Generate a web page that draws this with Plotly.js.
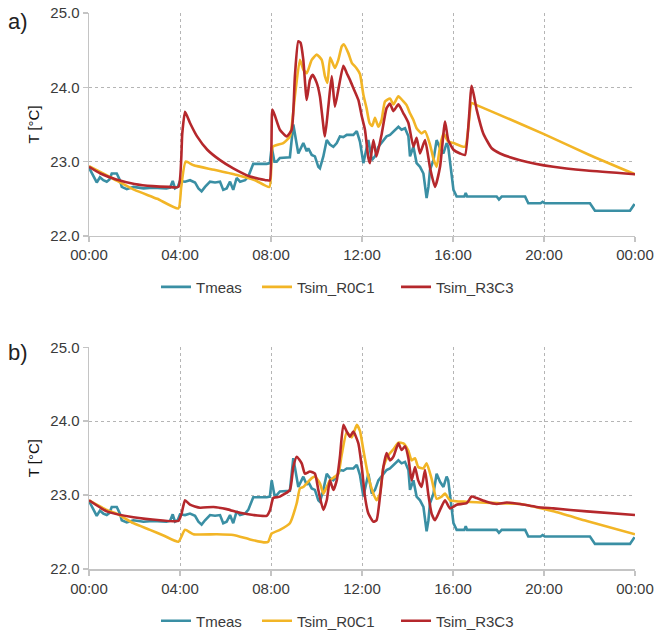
<!DOCTYPE html>
<html>
<head>
<meta charset="utf-8">
<script src="https://cdn.plot.ly/plotly-3.0.1.min.js"></script>
<style>
html,body{margin:0;padding:0;background:#fff;}
#chart{width:657px;height:630px;}
</style>
</head>
<body>
<div id="chart"></div>
<script>
// ---- data (hours since 00:00, temperature in °C) ----
var tickHours = [0, 4, 8, 12, 16, 20, 24];
var tickLabels = ["00:00", "04:00", "08:00", "12:00", "16:00", "20:00", "00:00"];
var seriesNames = ["Tmeas", "Tsim_R0C1", "Tsim_R3C3"];

var measT = [0,0.19,0.34,0.48,0.63,0.78,0.9,1.0,1.22,1.36,1.44,1.66,1.95,2.4,2.8,3.4,3.56,3.68,3.78,3.9,4.0,4.22,4.44,4.66,4.81,4.95,5.1,5.32,5.54,5.76,5.9,6.05,6.2,6.34,6.49,6.64,6.86,7.0,7.15,7.22,7.81,7.95,8.03,8.15,8.25,8.39,8.83,8.98,9.2,9.42,9.57,9.64,9.79,9.93,10.08,10.15,10.3,10.45,10.59,10.74,10.89,11.03,11.18,11.33,11.62,11.77,11.84,11.91,12.06,12.13,12.28,12.43,12.57,12.72,12.94,13.08,13.23,13.45,13.6,13.74,13.89,14.04,14.11,14.26,14.4,14.55,14.7,14.84,14.92,14.99,15.14,15.28,15.43,15.58,15.72,15.79,15.94,16.02,16.16,16.5,16.56,16.62,17.92,18.02,18.14,19.17,19.31,19.85,19.94,20.03,22.02,22.24,23.78,23.98];
var measV = [22.92,22.80,22.72,22.79,22.75,22.73,22.76,22.84,22.84,22.75,22.66,22.63,22.66,22.64,22.65,22.64,22.65,22.74,22.64,22.66,22.74,22.73,22.75,22.72,22.64,22.60,22.66,22.73,22.72,22.73,22.62,22.64,22.73,22.62,22.78,22.73,22.75,22.80,22.90,22.97,22.97,22.98,23.20,23.00,23.00,23.05,23.06,23.50,23.11,23.25,23.14,23.18,23.09,23.07,22.93,22.91,23.07,23.29,23.23,23.20,23.25,23.34,23.33,23.36,23.36,23.41,23.34,23.27,22.98,23.07,23.29,23.02,23.07,23.20,23.29,23.34,23.36,23.43,23.47,23.43,23.45,23.34,23.07,23.20,22.98,22.93,22.84,22.51,22.66,22.89,23.02,23.29,23.18,23.11,23.25,23.20,22.84,22.62,22.53,22.53,22.58,22.53,22.53,22.49,22.53,22.53,22.44,22.44,22.46,22.44,22.44,22.34,22.34,22.43];

// panel a)
var aR0C1T = [0,1,2,3,3.93,4.05,4.25,4.6,5.5,6.5,7.3,7.93,8.08,8.54,8.83,9.05,9.27,9.42,9.57,9.79,10.01,10.23,10.37,10.48,10.6,10.81,10.96,11.11,11.2,11.4,11.55,11.75,11.91,12.06,12.2,12.33,12.45,12.57,12.72,12.86,13.01,13.23,13.38,13.6,13.82,13.96,14.11,14.26,14.4,14.62,14.77,14.99,15.14,15.28,15.43,15.58,15.79,16.02,16.53,16.82,17.04,18.5,20,22,24];
var aR0C1V = [22.94,22.78,22.62,22.50,22.37,22.65,23.00,22.95,22.89,22.82,22.75,22.66,23.20,23.25,23.34,23.88,24.37,24.24,24.19,24.37,24.44,24.37,24.15,24.06,24.40,24.26,24.37,24.55,24.58,24.46,24.33,24.26,24.18,23.90,23.72,23.52,23.48,23.59,23.47,23.56,23.81,23.85,23.77,23.88,23.81,23.76,23.65,23.56,23.45,23.38,23.41,23.23,23.04,22.93,23.20,23.38,23.27,23.25,23.20,23.79,23.76,23.57,23.37,23.09,22.83];

var aR3C3T = [0,0.5,1.2,2,2.8,3.5,3.93,4.1,4.22,4.44,4.75,5.2,5.76,6.34,7.08,7.81,7.95,8.06,8.18,8.39,8.69,8.91,9.05,9.2,9.3,9.42,9.57,9.71,9.83,10.01,10.15,10.37,10.52,10.67,10.81,10.96,11.18,11.33,11.47,11.62,11.84,11.99,12.13,12.28,12.35,12.5,12.64,12.87,13.08,13.23,13.38,13.6,13.82,14.04,14.26,14.4,14.55,14.77,15.0,15.21,15.43,15.65,15.79,16.02,16.31,16.53,16.82,17.04,17.33,17.7,18.07,18.95,20.41,21.88,24];
var aR3C3V = [22.93,22.84,22.76,22.70,22.67,22.66,22.66,23.38,23.67,23.52,23.34,23.16,23.02,22.91,22.80,22.75,22.75,23.70,23.61,23.43,23.34,23.43,24.15,24.62,24.60,24.37,23.83,24.10,24.17,24.06,23.88,23.34,23.74,24.15,23.74,23.97,24.29,24.19,24.10,23.99,23.83,23.61,23.43,23.05,22.98,23.29,23.07,23.38,23.72,23.78,23.68,23.77,23.65,23.52,23.20,23.32,23.11,23.29,22.90,22.66,22.93,23.54,23.29,23.16,23.11,23.09,24.02,23.70,23.38,23.18,23.11,23.02,22.93,22.88,22.83];

// panel b)
var bR0C1T = [0,0.78,1.22,1.95,2.68,3.3,3.93,4.22,4.59,5.61,6.34,7.08,7.74,7.88,8.03,8.39,8.83,9.13,9.27,9.42,9.57,9.79,9.93,10.15,10.3,10.45,10.59,10.81,10.96,11.11,11.33,11.55,11.77,11.91,12.06,12.28,12.5,12.64,12.79,12.94,13.16,13.38,13.6,13.82,14.04,14.18,14.33,14.47,14.69,14.84,15.06,15.28,15.5,15.65,15.87,16.6,18.07,18.95,20.41,21.88,24];
var bR0C1V = [22.93,22.80,22.75,22.62,22.53,22.45,22.37,22.53,22.47,22.47,22.46,22.40,22.36,22.37,22.48,22.53,22.62,22.89,23.09,23.11,23.16,23.23,23.25,23.16,23.02,23.11,23.20,23.25,23.29,23.55,23.85,23.78,23.95,23.87,23.61,23.25,23.02,22.93,23.02,23.38,23.54,23.62,23.71,23.70,23.60,23.47,23.50,23.38,23.36,23.43,23.22,22.95,22.98,23.02,22.93,22.91,22.89,22.88,22.78,22.65,22.47];

var bR3C3T = [0,0.78,1.95,3.12,3.93,4.07,4.22,4.44,4.88,5.47,6.05,6.64,7.22,7.81,7.96,8.1,8.39,8.83,8.98,9.13,9.35,9.49,9.71,9.93,10.08,10.3,10.45,10.59,10.74,10.89,11.03,11.18,11.33,11.47,11.62,11.84,11.99,12.13,12.28,12.5,12.64,12.79,12.94,13.08,13.23,13.38,13.6,13.74,13.89,14.04,14.18,14.33,14.47,14.62,14.77,14.91,15.06,15.21,15.43,15.65,15.87,16.16,16.6,16.82,17.04,17.48,17.92,18.36,18.95,19.68,20.41,21.88,24];
var bR3C3V = [22.93,22.78,22.70,22.66,22.65,22.75,22.93,22.87,22.83,22.84,22.81,22.76,22.73,22.72,22.80,22.96,22.98,23.07,23.38,23.52,23.43,23.29,23.32,23.29,23.07,22.80,22.93,23.20,23.07,23.20,23.52,23.95,23.86,23.79,23.86,23.70,23.38,22.98,22.75,22.64,22.66,22.98,23.38,23.57,23.47,23.52,23.70,23.61,23.66,23.50,23.20,23.38,23.20,23.11,23.34,23.02,22.75,22.66,22.80,22.93,22.82,22.87,22.89,22.98,22.96,22.91,22.88,22.90,22.88,22.84,22.82,22.78,22.73];

// ---- styling ----
var colMeas = "#3a8fa4", colR0C1 = "#f2b526", colR3C3 = "#b5282c";
var lw = 2.6;
function tr(x, y, name, color, xa, ya, lg, smooth) {
  var line = {color: color, width: lw};
  if (smooth) { line.shape = "spline"; line.smoothing = 0.5; }
  return {x: x, y: y, name: name, type: "scatter", mode: "lines",
    line: line, xaxis: xa, yaxis: ya, legend: lg};
}
var data = [
  tr(measT, measV, seriesNames[0], colMeas, "x", "y", "legend", false),
  tr(aR0C1T, aR0C1V, seriesNames[1], colR0C1, "x", "y", "legend2", true),
  tr(aR3C3T, aR3C3V, seriesNames[2], colR3C3, "x", "y", "legend3", true),
  tr(measT, measV, seriesNames[0], colMeas, "x2", "y2", "legend4", false),
  tr(bR0C1T, bR0C1V, seriesNames[1], colR0C1, "x2", "y2", "legend5", true),
  tr(bR3C3T, bR3C3V, seriesNames[2], colR3C3, "x2", "y2", "legend6", true)
];

var fontFam = "Liberation Sans, Arial, sans-serif";
var tickFont = {family: fontFam, size: 15, color: "#3a3a3a"};
function xax(anchor) {
  return {anchor: anchor, range: [0, 24], tickvals: tickHours, ticktext: tickLabels,
    showgrid: true, gridcolor: "#b5b5b5", griddash: "dot", gridwidth: 1,
    showline: true, linecolor: "#c4c4c4", linewidth: 1.5,
    ticks: "outside", ticklen: 5, tickcolor: "#c4c4c4", tickwidth: 1.5,
    tickfont: tickFont, zeroline: false, fixedrange: true};
}
function yax(anchor, domain) {
  return {anchor: anchor, domain: domain, range: [22, 25], dtick: 1, tickformat: ".1f",
    showgrid: true, gridcolor: "#b5b5b5", griddash: "dot", gridwidth: 1,
    showline: true, linecolor: "#c4c4c4", linewidth: 1.5,
    ticks: "outside", ticklen: 5, tickcolor: "#c4c4c4", tickwidth: 1.5,
    tickfont: tickFont, zeroline: false,
    title: {text: "T [°C]", font: {family: fontFam, size: 15, color: "#111"}, standoff: 7}};
}
var legendFont = {family: fontFam, size: 15, color: "#3a3a3a"};
var legX = [0.1227, 0.3077, 0.5623];
function leg(x, y) {
  return {orientation: "h", xanchor: "left", yanchor: "middle", x: x, y: y,
    font: legendFont, bgcolor: "rgba(0,0,0,0)", itemwidth: 30};
}
var layout = {
  width: 657, height: 630,
  margin: {l: 89, r: 22, t: 13, b: 61, autoexpand: false},
  paper_bgcolor: "#fff", plot_bgcolor: "#fff",
  font: {family: fontFam},
  showlegend: true,
  xaxis: xax("y"),
  yaxis: yax("x", [0.599, 1]),
  xaxis2: xax("y2"),
  yaxis2: yax("x2", [0, 0.3987]),
  legend: leg(legX[0], 0.507),
  legend2: leg(legX[1], 0.507),
  legend3: leg(legX[2], 0.507),
  legend4: leg(legX[0], -0.0935),
  legend5: leg(legX[1], -0.0935),
  legend6: leg(legX[2], -0.0935),
  annotations: [
    {text: "a)", xref: "paper", yref: "paper", x: -0.152, y: 0.985, xanchor: "left", yanchor: "middle",
     showarrow: false, font: {family: fontFam, size: 22, color: "#222"}},
    {text: "b)", xref: "paper", yref: "paper", x: -0.152, y: 0.3885, xanchor: "left", yanchor: "middle",
     showarrow: false, font: {family: fontFam, size: 22, color: "#222"}}
  ]
};
Plotly.newPlot("chart", data, layout, {displayModeBar: false, staticPlot: true});
</script>
</body>
</html>
